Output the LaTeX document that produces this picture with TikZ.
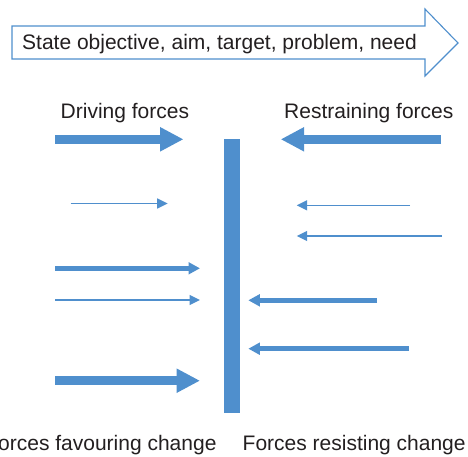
\documentclass[tikz,border=0pt]{standalone}
\usepackage{fontspec}
\setmainfont{Liberation Sans}
\usetikzlibrary{arrows.meta}
\definecolor{fblue}{RGB}{79,143,205}
\definecolor{ftext}{RGB}{35,31,32}
\begin{document}
\begin{tikzpicture}[x=1pt,y=-1pt,
  lbl/.style={inner sep=0pt,text=ftext,font=\fontsize{21}{25}\selectfont},
  thickarr/.style={draw=fblue,line width=9pt,-{Triangle[length=23.5pt,width=22.8pt]}},
  medarr/.style={draw=fblue,line width=5.2pt,-{Triangle[length=11.5pt,width=11.6pt]}},
  thinarr/.style={draw=fblue,line width=1.5pt,-{Triangle[length=10.5pt,width=10pt]}}]
\useasboundingbox (0,0) rectangle (468,456);
% top arrow
\draw[fblue,line width=1.1pt,line join=miter,fill=white]
  (12,26) -- (425,26) -- (425,9) -- (458,43) -- (425,76) -- (425,59) -- (12,59) -- cycle;
\node[lbl,anchor=base west] (obj) at (22,49.5) {State objective, aim, target, problem, need};
\node[lbl,anchor=base west] (drv) at (60.5,118.5) {Driving forces};
\node[lbl,anchor=base west] (rst) at (284,118.5) {Restraining forces};
\node[lbl,anchor=base east] (fav) at (216.7,450.5) {Forces favouring change};
\node[lbl,anchor=base west] (res) at (242.5,450.5) {Forces resisting change};
% bar
\node[fill=fblue,inner sep=0pt,minimum width=16pt,minimum height=274pt,anchor=north west] (bar) at (224,139) {};
% left arrows
\coordinate (l1s) at (55,139.3); \coordinate (l1e) at (183.5,139.3);
\coordinate (l2s) at (70.5,203.5); \coordinate (l2e) at (167.7,203.5);
\coordinate (l3s) at (55,268.3); \coordinate (l3e) at (200,268.3);
\coordinate (l4s) at (55,300); \coordinate (l4e) at (200,300);
\coordinate (l5s) at (55,380.7); \coordinate (l5e) at (200,380.7);
\draw[thickarr] (l1s) -- (l1e);
\draw[thinarr] (l2s) -- (l2e);
\draw[medarr] (l3s) -- (l3e);
\draw[thinarr] (l4s) -- (l4e);
\draw[thickarr] (l5s) -- (l5e);
% right arrows
\coordinate (r1s) at (441,139.3); \coordinate (r1e) at (280.7,139.3);
\coordinate (r2s) at (410,205.3); \coordinate (r2e) at (296.7,205.3);
\coordinate (r3s) at (442,236); \coordinate (r3e) at (296.7,236);
\coordinate (r4s) at (377,300.3); \coordinate (r4e) at (248.3,300.3);
\coordinate (r5s) at (409,348.7); \coordinate (r5e) at (248.3,348.7);
\draw[thickarr] (r1s) -- (r1e);
\draw[thinarr] (r2s) -- (r2e);
\draw[thinarr] (r3s) -- (r3e);
\draw[medarr] (r4s) -- (r4e);
\draw[medarr] (r5s) -- (r5e);
\end{tikzpicture}
\end{document}
